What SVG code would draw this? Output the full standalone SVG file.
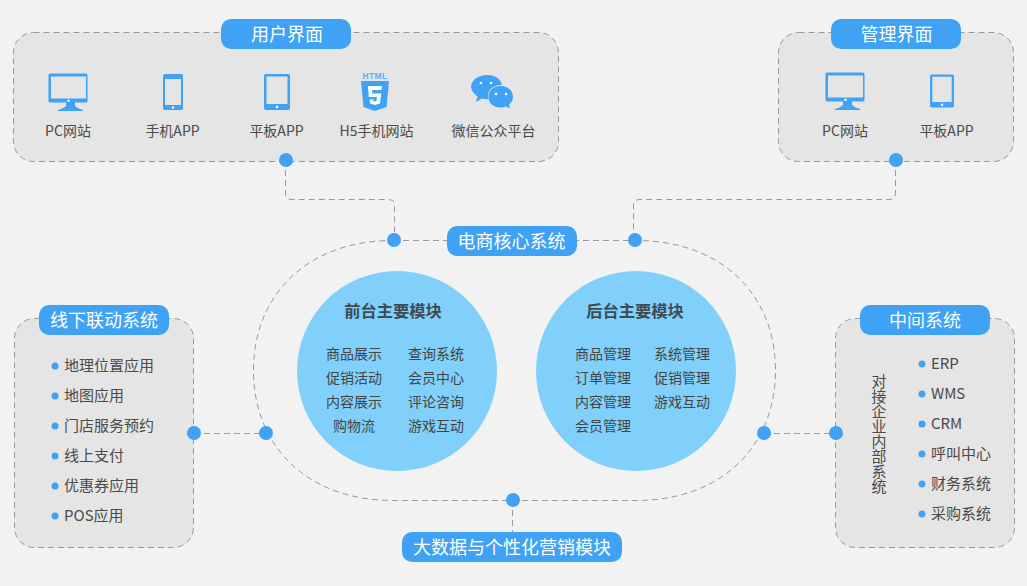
<svg xmlns="http://www.w3.org/2000/svg" width="1027" height="586" viewBox="0 0 1027 586">
<style>
text{font-family:"Noto Sans CJK SC","Noto Sans",sans-serif;fill:#4a4a4a;font-size:14px;text-anchor:middle}
.panel{fill:#e5e5e5;stroke:#999;stroke-width:1;stroke-dasharray:6 4}
.pill{fill:#3fa2f5}
.pt{fill:#fff;font-size:18px}
.dash{fill:none;stroke:#999;stroke-width:1;stroke-dasharray:6 4}
.dot{fill:#3fa2f5}
.bul{fill:#3fa2f5}
.ic{fill:#3fa2f5}
.hole{fill:#e5e5e5}
.l{text-anchor:start;font-size:15px}
.c{fill:#80d0fb}
.h{font-size:16.300px;font-weight:700;fill:#3f4a52}
.m{font-size:14px;fill:#444}
.w{fill:#fff}
.v{font-size:15px;writing-mode:vertical-rl;text-anchor:start}
</style>
<defs>
<g id="pc"><path class="ic" d="M-20 -19a1.500 1.500 0 0 1 1.500 -1.500h36a1.500 1.500 0 0 1 1.500 1.500v26a1.500 1.500 0 0 1 -1.500 1.500h-11v3.500c2 2 5 3 8 4v1h-25v-1c3 -1 6 -2 8 -4v-3.500h-16a1.500 1.500 0 0 1 -1.500 -1.500z" transform="translate(0.500,0)"/><rect class="hole" x="-17" y="-17.500" width="35" height="22"/><circle class="w" cx="0.500" cy="6.800" r="1.300"/></g>
<g id="tab"><rect class="ic" x="-13" y="-18" width="26" height="36" rx="2"/><rect class="hole" x="-10.500" y="-15.500" width="21" height="27.500"/><circle class="w" cx="0" cy="15" r="1.300"/></g>
</defs>
<rect width="1027" height="586" fill="#f2f2f2"/>
<g id="connectors">
<path class="dash" d="M285.500 160V193Q285.500 199.500 292 199.500H388Q394.500 199.500 394.500 205V240"/>
<path class="dash" d="M895.500 160V193Q895.500 199.500 889 199.500H640Q633.500 199.500 633.500 205V240"/>
<path class="dash" d="M393 240.500H636C722 240.500 775.500 295 775.500 370.500S722 500.500 636 500.500H393C307 500.500 253.500 446 253.500 370.500S307 240.500 393 240.500Z"/>
<path class="dash" d="M194 433.500H266"/>
<path class="dash" d="M764 433.500H836"/>
<path class="dash" d="M512.500 500V532"/>
</g>
<g id="user-ui">
<rect class="panel" x="13.500" y="32.500" width="545" height="129" rx="20"/>
<rect class="pill" x="221" y="19" width="130" height="30" rx="10"/>
<text class="pt" x="287" y="41">用户界面</text>
<use href="#pc" x="68" y="94"/>
<text x="68" y="136">PC网站</text>
<rect class="ic" x="163" y="74" width="20" height="36" rx="1.500"/><rect class="hole" x="165" y="79" width="16" height="26"/><circle class="w" cx="173" cy="107.500" r="1.200"/>
<text x="172.500" y="136">手机APP</text>
<use href="#tab" x="277" y="92"/>
<text x="276.500" y="136">平板APP</text>
<path class="ic" d="M361 81H389L386.500 107L375 111L363.500 107Z"/>
<path class="w" d="M368 86H382L381.500 90H372L372.300 93.500H381.200L380 103.500L375 105L370 103.500L369.700 99.500H373.300L373.500 101L375 101.500L376.500 101L376.900 97H368.800Z"/>
<text x="375" y="78.500" style="font-size:8.500px;font-weight:700;fill:#5aaef2;letter-spacing:.4px;font-family:'Liberation Sans',sans-serif">HTML</text>
<path class="ic" d="M487 75C495 75 501 79 502 85C495 84.500 488 89 488 96C488 97 488 98 488.500 99C486.500 99.500 484.500 99.300 482 98.500L476 102L477.500 96.500C473.500 93.500 471 90 471 87C471 80 478.500 75 487 75Z"/>
<circle class="w" cx="481" cy="83" r="1.300"/><circle class="w" cx="491" cy="83" r="1.300"/>
<path class="ic" d="M500.500 86C507.500 86 513 90.500 513 97C513 100 511.500 102.500 509 104.500L510 108.500L506 106.500C504.500 107 502.500 107.500 500.500 107.500C493.500 107.500 488.500 103 488.500 97C488.500 90.500 493.500 86 500.500 86Z"/>
<circle class="w" cx="496" cy="94" r="1.300"/><circle class="w" cx="506" cy="94" r="1.300"/>
<text x="376.500" y="136">H5手机网站</text>
<text x="493.500" y="136">微信公众平台</text>
</g>
<g id="admin-ui">
<rect class="panel" x="778.500" y="32.500" width="235" height="129" rx="20"/>
<rect class="pill" x="831" y="19" width="130" height="30" rx="10"/>
<text class="pt" x="896.500" y="41">管理界面</text>
<use href="#pc" x="845" y="93"/>
<text x="845" y="136">PC网站</text>
<g transform="translate(942,91) scale(.92)"><use href="#tab"/></g>
<text x="946.500" y="136">平板APP</text>
</g>
<g id="core">
<circle class="c" cx="397" cy="371" r="100"/>
<circle class="c" cx="636" cy="371" r="100"/>
<text class="h" x="393" y="317">前台主要模块</text>
<text class="h" x="635" y="317">后台主要模块</text>
<text class="m" x="354" y="359">商品展示</text><text class="m" x="436" y="359">查询系统</text>
<text class="m" x="354" y="383">促销活动</text><text class="m" x="436" y="383">会员中心</text>
<text class="m" x="354" y="407">内容展示</text><text class="m" x="436" y="407">评论咨询</text>
<text class="m" x="354" y="431">购物流</text><text class="m" x="436" y="431">游戏互动</text>
<text class="m" x="603" y="359">商品管理</text><text class="m" x="682" y="359">系统管理</text>
<text class="m" x="603" y="383">订单管理</text><text class="m" x="682" y="383">促销管理</text>
<text class="m" x="603" y="407">内容管理</text><text class="m" x="682" y="407">游戏互动</text>
<text class="m" x="603" y="431">会员管理</text>
<rect class="pill" x="447" y="226" width="130" height="30" rx="10"/>
<text class="pt" x="511.500" y="248">电商核心系统</text>
</g>
<g id="offline">
<rect class="panel" x="14.500" y="318.500" width="179" height="229" rx="20"/>
<rect class="pill" x="39" y="305" width="130" height="30" rx="10"/>
<text class="pt" x="104" y="327">线下联动系统</text>
<circle class="bul" cx="55" cy="366" r="3.500"/><text class="l" x="64" y="371">地理位置应用</text>
<circle class="bul" cx="55" cy="396" r="3.500"/><text class="l" x="64" y="401">地图应用</text>
<circle class="bul" cx="55" cy="426" r="3.500"/><text class="l" x="64" y="431">门店服务预约</text>
<circle class="bul" cx="55" cy="456" r="3.500"/><text class="l" x="64" y="461">线上支付</text>
<circle class="bul" cx="55" cy="486" r="3.500"/><text class="l" x="64" y="491">优惠券应用</text>
<circle class="bul" cx="55" cy="516" r="3.500"/><text class="l" x="64" y="521">POS应用</text>
</g>
<g id="middle">
<rect class="panel" x="835.500" y="318.500" width="179" height="229" rx="20"/>
<rect class="pill" x="860" y="305" width="130" height="30" rx="10"/>
<text class="pt" x="925" y="327">中间系统</text>
<text class="v" x="879" y="374">对接企业内部系统</text>
<circle class="bul" cx="922" cy="364" r="3.500"/><text class="l" x="931" y="369">ERP</text>
<circle class="bul" cx="922" cy="394" r="3.500"/><text class="l" x="931" y="399">WMS</text>
<circle class="bul" cx="922" cy="424" r="3.500"/><text class="l" x="931" y="429">CRM</text>
<circle class="bul" cx="922" cy="454" r="3.500"/><text class="l" x="931" y="459">呼叫中心</text>
<circle class="bul" cx="922" cy="484" r="3.500"/><text class="l" x="931" y="489">财务系统</text>
<circle class="bul" cx="922" cy="514" r="3.500"/><text class="l" x="931" y="519">采购系统</text>
</g>
<g id="bigdata">
<rect class="pill" x="402" y="532" width="220" height="30" rx="10"/>
<text class="pt" x="512" y="554">大数据与个性化营销模块</text>
</g>
<g id="dots">
<circle class="dot" cx="286" cy="160" r="7"/><circle class="dot" cx="896" cy="160" r="7"/>
<circle class="dot" cx="394" cy="240" r="7"/><circle class="dot" cx="635" cy="240" r="7"/>
<circle class="dot" cx="194" cy="433" r="7"/><circle class="dot" cx="266" cy="433" r="7"/>
<circle class="dot" cx="764" cy="433" r="7"/><circle class="dot" cx="836" cy="433" r="7"/>
<circle class="dot" cx="513" cy="500" r="7"/>
</g>
</svg>
